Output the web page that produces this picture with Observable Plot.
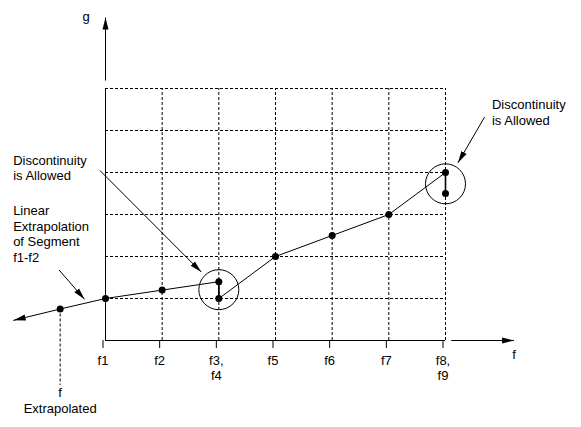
<!DOCTYPE html>
<html>
<head>
<meta charset="utf-8">
<script src="https://cdn.jsdelivr.net/npm/d3@7"></script>
<script src="https://cdn.jsdelivr.net/npm/@observablehq/plot@0.6"></script>
<style>
  html, body { margin: 0; padding: 0; background: #fff; }
</style>
</head>
<body>
<div id="chart"></div>
<script>
// Tick positions and labels along f
const fTicks = [1, 2, 3, 4, 5, 6, 7];
const fTickLabels = ["f1", "f2", "f3,\nf4", "f5", "f6", "f7", "f8,\nf9"];

// Dashed grid
const gGridLines = [1, 2, 3, 4, 5, 6];
const fGridLines = [2, 3, 4, 5, 6, 7];

// Tabulated breakpoints of g(f)
const pointNames = ["f1", "f2", "f3", "f4", "f5", "f6", "f7", "f8", "f9"];
const pointF = [1, 2, 3, 3, 4, 5, 6, 7, 7];
const pointG = [1.0, 1.2, 1.4, 1.0, 2.0, 2.5, 3.0, 4.0, 3.5];

// Pairs of breakpoints sharing the same f (discontinuities)
const jumpPairs = [["f3", "f4"], ["f8", "f9"]];

// Extension of segment f1-f2 below f1
const extrapF = [1, 0.2, -0.62];
const extrapG = [1.0, 0.75, 0.48];
const extrapPointF = 0.2;
const extrapPointG = 0.75;
const extrapDropG = -1.07;

// Circles marking the discontinuities
const circleF = [3, 7];
const circleG = [1.21, 3.73];

// Arrows: callouts and axis arrows
const arrowF1 = [0.9, 0.18, 7.69, 7.10, 1];
const arrowG1 = [4.05, 1.68, 5.32, 0, 6.19];
const arrowF2 = [2.69, 0.63, 7.22, 8.21, 1];
const arrowG2 = [1.63, 0.98, 4.23, 0, 7.69];

// Text labels
const labelText = [
  "Discontinuity\nis Allowed",
  "Linear\nExtrapolation\nof Segment\nf1-f2",
  "Discontinuity\nis Allowed",
  "f\nExtrapolated",
  "g",
  "f"
];
const labelF = [-0.63, -0.63, 7.82, 0.2, 0.66, 8.21];
const labelG = [4.12, 2.55, 5.44, -1.42, 7.73, -0.31];
const labelAnchor = ["start", "start", "start", "middle", "middle", "middle"];

const points = pointNames.map((name, i) => ({name, f: pointF[i], g: pointG[i]}));
const byName = new Map(points.map(p => [p.name, p]));
const jumps = jumpPairs.map(([a, b]) => ({f: byName.get(a).f, g1: byName.get(a).g, g2: byName.get(b).g}));
const extrap = extrapF.map((f, i) => ({f, g: extrapG[i]}));
const circles = circleF.map((f, i) => ({f, g: circleG[i]}));
const arrows = arrowF1.map((f, i) => ({f1: f, g1: arrowG1[i], f2: arrowF2[i], g2: arrowG2[i]}));
const labels = labelText.map((text, i) => ({text, f: labelF[i], g: labelG[i], anchor: labelAnchor[i]}));

const font = "'Liberation Sans', Arial, Helvetica, sans-serif";
const textStyle = {x: "f", y: "g", text: "text", fontSize: 13, lineHeight: 1.2, fill: "black", lineAnchor: "middle"};

const chart = Plot.plot({
  width: 581,
  height: 427,
  marginLeft: 105,
  marginRight: 136,
  marginTop: 88,
  marginBottom: 87,
  style: {fontFamily: font, fontSize: "13px", background: "white", color: "black"},
  x: {domain: [1, 7]},
  y: {domain: [0, 6], axis: null},
  marks: [
    Plot.ruleY(gGridLines, {y: d => d, x1: 1, x2: 7, stroke: "black", strokeDasharray: "3,2"}),
    Plot.ruleX(fGridLines, {x: d => d, y1: 0, y2: 6, stroke: "black", strokeDasharray: "3,2"}),
    Plot.ruleY([0], {x1: 1, x2: 7, stroke: "black"}),
    Plot.ruleX([1], {y1: 0, y2: 6, stroke: "black"}),
    Plot.axisX({
      ticks: fTicks,
      tickFormat: d => fTickLabels[fTicks.indexOf(d)],
      tickSize: 8,
      tickPadding: 6,
      label: null,
      dx: -2.5,
      fontSize: 13,
      lineHeight: 1.15
    }),
    Plot.ruleX([extrapPointF], {x: d => d, y1: extrapPointG, y2: extrapDropG, stroke: "black", strokeDasharray: "3,2"}),
    Plot.line(points, {x: "f", y: "g", stroke: "black", strokeWidth: 1}),
    Plot.ruleX(jumps, {x: "f", y1: "g1", y2: "g2", stroke: "black", strokeWidth: 1.6}),
    Plot.line(extrap, {x: "f", y: "g", stroke: "black", strokeWidth: 1, markerEnd: "arrow"}),
    Plot.dot(points, {x: "f", y: "g", r: 3.5, fill: "black"}),
    Plot.dot([{f: extrapPointF, g: extrapPointG}], {x: "f", y: "g", r: 3.5, fill: "black"}),
    Plot.dot(circles, {x: "f", y: "g", r: 20, stroke: "black", fill: "none", strokeWidth: 1}),
    Plot.link(arrows, {x1: "f1", y1: "g1", x2: "f2", y2: "g2", stroke: "black", strokeWidth: 1, markerEnd: "arrow"}),
    Plot.text(labels.filter(d => d.anchor === "start"), {...textStyle, textAnchor: "start"}),
    Plot.text(labels.filter(d => d.anchor === "middle"), {...textStyle, textAnchor: "middle"})
  ]
});

// Filled, narrow arrowheads
chart.querySelectorAll("marker").forEach(m => {
  m.setAttribute("viewBox", "-12 -4 13 8");
  m.setAttribute("markerWidth", "13");
  m.setAttribute("markerHeight", "8");
  m.setAttribute("markerUnits", "userSpaceOnUse");
  m.setAttribute("fill", "black");
  m.setAttribute("stroke", "none");
  const p = m.querySelector("path");
  if (p) p.setAttribute("d", "M-12,-3L0,0L-12,3Z");
});

document.getElementById("chart").appendChild(chart);
</script>
</body>
</html>
